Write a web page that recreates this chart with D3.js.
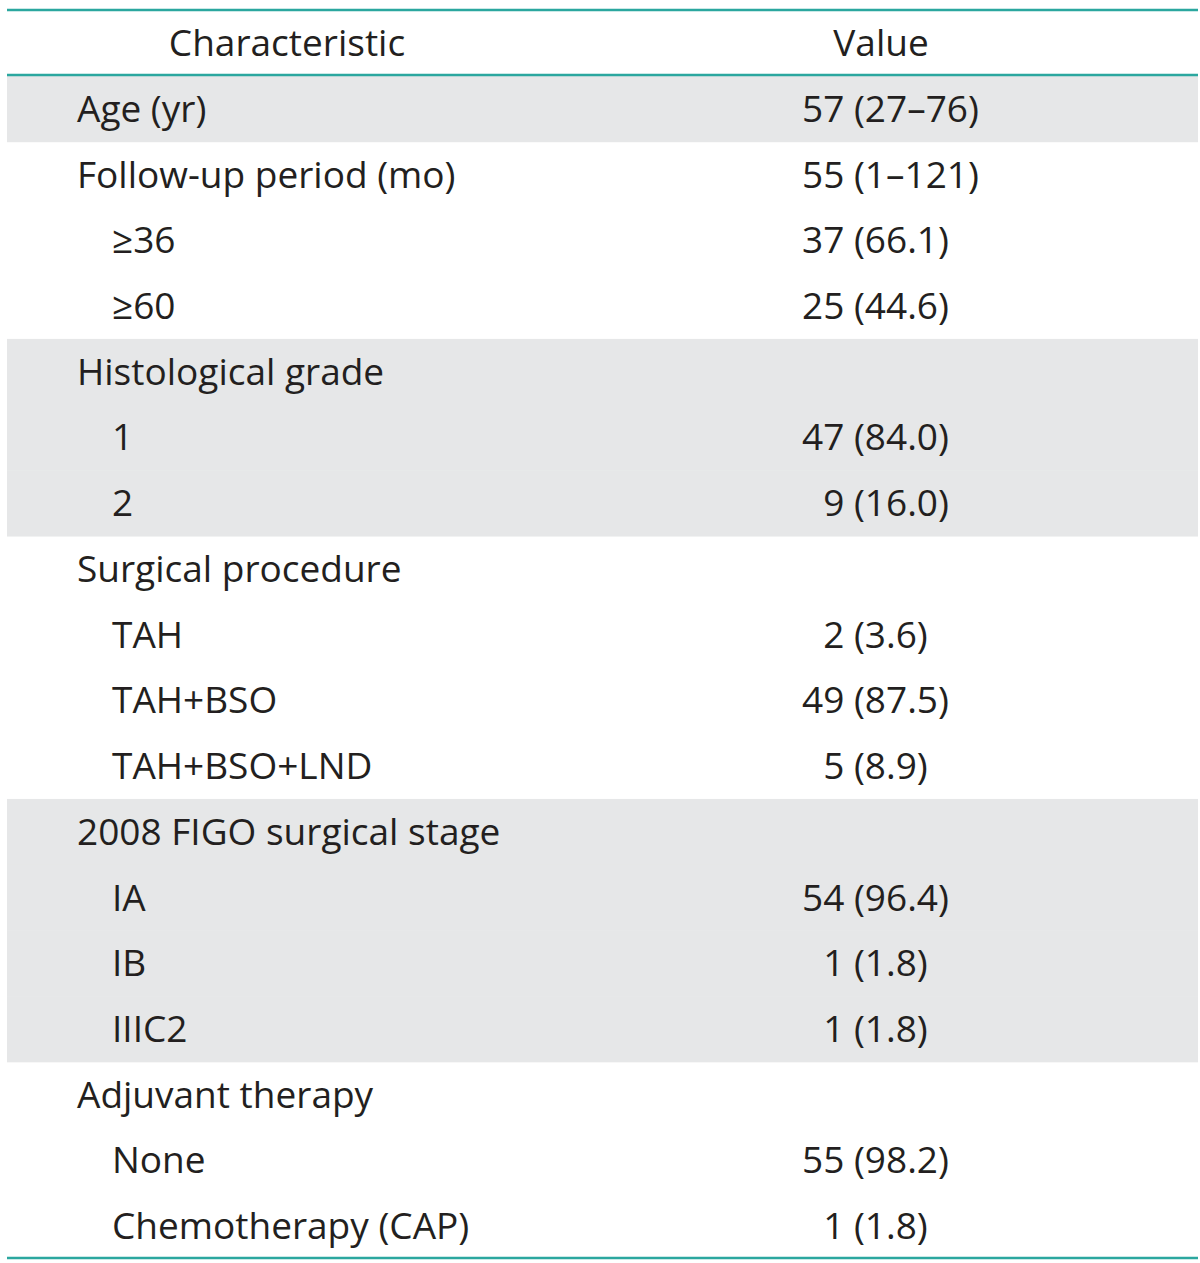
<!DOCTYPE html>
<html>
<head>
<meta charset="utf-8">
<script src="https://cdn.jsdelivr.net/npm/d3@7"></script>
<style>
  html, body { margin: 0; padding: 0; background: #fff; }
  svg { display: block; }
</style>
</head>
<body>
<svg id="chart" width="1200" height="1263"></svg>
<script>
// ---- Data ----
const headers = ["Characteristic", "Value"];
const labels = [
  "Age (yr)", "Follow-up period (mo)", "\u226536", "\u226560",
  "Histological grade", "1", "2",
  "Surgical procedure", "TAH", "TAH+BSO", "TAH+BSO+LND",
  "2008 FIGO surgical stage", "IA", "IB", "IIIC2",
  "Adjuvant therapy", "None", "Chemotherapy (CAP)"
];
const indentLevels = [0, 0, 1, 1, 0, 1, 1, 0, 1, 1, 1, 0, 1, 1, 1, 0, 1, 1];
const values = [
  "57 (27\u201376)", "55 (1\u2013121)", "37 (66.1)", "25 (44.6)",
  "", "47 (84.0)", "9 (16.0)",
  "", "2 (3.6)", "49 (87.5)", "5 (8.9)",
  "", "54 (96.4)", "1 (1.8)", "1 (1.8)",
  "", "55 (98.2)", "1 (1.8)"
];
const shadedRows = [0, 4, 5, 6, 11, 12, 13, 14];

// ---- Layout ----
const left = 7, right = 1198;
const headTop = 10, headBottom = 75, bodyBottom = 1259;
const teal = "#2ba79f";
const shade = "#e6e7e8";
const ink = "#231f20";
const fontFamily = "'Open Sans', Lato, sans-serif";
const fontSize = 37;

const svg = d3.select("#chart");

const y = d3.scaleBand()
  .domain(d3.range(labels.length))
  .range([76, bodyBottom])
  .paddingInner(0).paddingOuter(0);

const xIndent = d3.scaleOrdinal().domain([0, 1]).range([77, 112]);
const valueX = 802;

// shaded bands
svg.append("g").selectAll("rect")
  .data(shadedRows)
  .join("rect")
  .attr("x", left)
  .attr("y", d => y(d))
  .attr("width", right - left)
  .attr("height", y.bandwidth() + 0.5)
  .attr("fill", shade);

// header text
svg.append("g").selectAll("text")
  .data(headers)
  .join("text")
  .attr("x", (d, i) => i === 0 ? 287 : 881)
  .attr("y", 56)
  .attr("text-anchor", "middle")
  .attr("font-family", fontFamily)
  .attr("font-size", fontSize)
  .attr("fill", ink)
  .text(d => d);

// measure digit width for alignment
const probe = svg.append("text")
  .attr("font-family", fontFamily).attr("font-size", fontSize).text("0");
const digitW = probe.node().getComputedTextLength();
probe.remove();

const baseOff = 13;

// labels
svg.append("g").selectAll("text")
  .data(labels)
  .join("text")
  .attr("x", (d, i) => xIndent(indentLevels[i]))
  .attr("y", (d, i) => y(i) + y.bandwidth() / 2 + baseOff)
  .attr("font-family", fontFamily)
  .attr("font-size", fontSize)
  .attr("fill", ink)
  .text(d => d);

// values (numbers aligned as in a figure-width column)
svg.append("g").selectAll("text")
  .data(values.map((v, i) => ({ v, i })).filter(d => d.v))
  .join("text")
  .attr("x", d => valueX + (/^\d\s/.test(d.v) ? digitW : 0))
  .attr("y", d => y(d.i) + y.bandwidth() / 2 + baseOff)
  .attr("font-family", fontFamily)
  .attr("font-size", fontSize)
  .attr("fill", ink)
  .text(d => d.v);

// rules
const rules = [headTop, headBottom, bodyBottom - 1];
svg.append("g").selectAll("line")
  .data(rules)
  .join("line")
  .attr("x1", left).attr("x2", right)
  .attr("y1", d => d).attr("y2", d => d)
  .attr("stroke", teal)
  .attr("stroke-width", 2.5);
</script>
</body>
</html>
